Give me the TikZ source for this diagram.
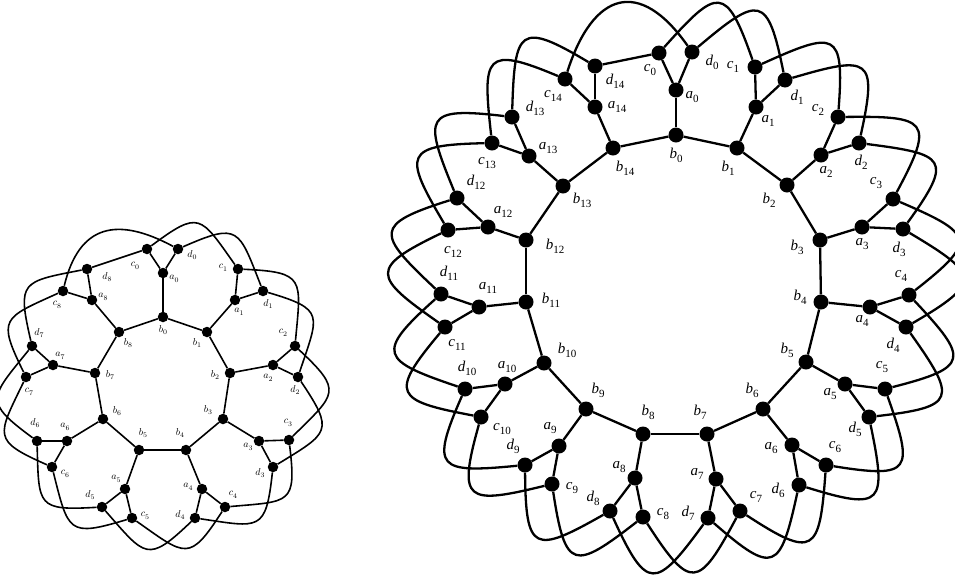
\documentclass[tikz,border=0pt]{standalone}
\usepackage{fontspec}
\newfontfamily\rfont{Liberation Serif}
\usetikzlibrary{calc}
\newcommand{\RL}[2]{{\rfont\fontsize{15}{15}\selectfont\itshape #1}\raisebox{-4pt}{\rfont\fontsize{11}{11}\selectfont #2}}
\newcommand{\LL}[2]{{\fontsize{10}{10}\selectfont$#1$}\raisebox{-2.5pt}{\fontsize{7.5}{7.5}\selectfont$#2$}}
\newcommand{\VR}[6]{\node[rv] (R#1#2) at (#3,#4) {}; \node[lab] (R#1#2l) at (#5,#6) {\RL{#1}{#2}};}
\newcommand{\VL}[6]{\node[lv] (L#1#2) at (#3,#4) {}; \node[lab] (L#1#2l) at (#5,#6) {\LL{#1}{#2}};}
\tikzset{
  rv/.style={circle,fill=black,inner sep=0pt,minimum size=15pt},
  lv/.style={circle,fill=black,inner sep=0pt,minimum size=10.5pt},
  lab/.style={inner sep=0pt},
  rline/.style={line width=2.3pt,line join=round},
  lline/.style={line width=1.6pt,line join=round},
}
\begin{document}
\begin{tikzpicture}[x=1pt,y=-1pt]
\useasboundingbox (0,0) rectangle (955,579);
\coordinate (RO) at (672,287);
\coordinate (LO) at (163,386);
% ---------------- right graph (n=15)
\VR{a}{0}{676}{90}{692}{97}
\VR{b}{0}{676}{135}{676}{155}
\VR{c}{0}{659}{53}{650}{70}
\VR{d}{0}{692}{52}{712}{62}
\VR{a}{1}{756}{107}{768}{121}
\VR{b}{1}{737}{148}{728}{168}
\VR{c}{1}{755}{67}{733}{67}
\VR{d}{1}{785}{80}{797}{97}
\VR{a}{2}{821}{155}{826}{172}
\VR{b}{2}{787}{185}{769}{200}
\VR{c}{2}{838}{117}{818}{110}
\VR{d}{2}{859}{143}{861}{162}
\VR{a}{3}{862}{227}{862}{244}
\VR{b}{3}{820}{240}{797}{247}
\VR{c}{3}{893}{199}{876}{183}
\VR{d}{3}{903}{229}{899}{249}
\VR{a}{4}{870}{307}{862}{321}
\VR{b}{4}{821}{302}{800}{297}
\VR{c}{4}{909}{295}{901}{276}
\VR{d}{4}{906}{327}{893}{345}
\VR{a}{5}{845}{384}{830}{394}
\VR{b}{5}{806}{362}{787}{350}
\VR{c}{5}{885}{389}{882}{367}
\VR{d}{5}{869}{417}{855}{429}
\VR{a}{6}{792}{445}{771}{448}
\VR{b}{6}{763}{409}{752}{390}
\VR{c}{6}{826}{465}{835}{447}
\VR{d}{6}{799}{485}{778}{490}
\VR{a}{7}{716}{479}{697}{474}
\VR{b}{7}{707}{434}{700}{412}
\VR{c}{7}{740}{511}{756}{497}
\VR{d}{7}{708}{518}{688}{513}
\VR{a}{8}{635}{478}{619}{467}
\VR{b}{8}{643}{434}{648}{412}
\VR{c}{8}{643}{517}{663}{514}
\VR{d}{8}{610}{511}{593}{498}
\VR{a}{9}{559}{446}{550}{428}
\VR{b}{9}{586}{409}{598}{390}
\VR{c}{9}{552}{484}{572}{488}
\VR{d}{9}{525}{465}{513}{446}
\VR{a}{10}{505}{384}{507}{367}
\VR{b}{10}{544}{363}{567}{350}
\VR{c}{10}{481}{417}{502}{429}
\VR{d}{10}{465}{389}{467}{368}
\VR{a}{11}{479}{307}{488}{288}
\VR{b}{11}{526}{302}{551}{300}
\VR{c}{11}{445}{327}{457}{345}
\VR{d}{11}{441}{294}{449}{273}
\VR{a}{12}{488}{227}{503}{212}
\VR{b}{12}{526}{240}{555}{246}
\VR{c}{12}{448}{230}{453}{252}
\VR{d}{12}{457}{198}{476}{182}
\VR{a}{13}{529}{156}{548}{148}
\VR{b}{13}{563}{186}{582}{200}
\VR{c}{13}{492}{143}{487}{163}
\VR{d}{13}{512}{117}{535}{108}
\VR{a}{14}{595}{107}{617}{107}
\VR{b}{14}{613}{148}{625}{168}
\VR{c}{14}{565}{79}{553}{96}
\VR{d}{14}{595}{66}{615}{81}
\foreach \i [evaluate=\i as \j using {int(mod(\i+1,15))}] in {0,...,14} {
  \draw[rline] (Rb\i) -- (Rb\j);
  \draw[rline] (Ra\i) -- (Rb\i);
  \draw[rline] (Ra\i) -- (Rc\i);
  \draw[rline] (Ra\i) -- (Rd\i);
}
\draw[rline] (Rd14) -- (Rc0);
\foreach \i [evaluate=\i as \j using {int(\i+1)}] in {0,...,13} {
  \foreach \k in {c,d} {
    \draw[rline] let \p1=($(R\k\i)-(RO)$), \p2=($(R\k\j)-(RO)$),
      \n1={atan2(\y1,\x1)-45}, \n2={atan2(\y2,\x2)+40} in
      (R\k\i) to[out=\n1,in=\n2,looseness=2.3] (R\k\j);
  }
}
\draw[rline] let \p1=($(Rc14)-(RO)$), \p2=($(Rd0)-(RO)$),
  \n1={atan2(\y1,\x1)-45}, \n2={atan2(\y2,\x2)+40} in
  (Rc14) to[out=\n1,in=\n2,looseness=1.75] (Rd0);
% ---------------- left graph (n=9)
\VL{a}{0}{163}{273}{174}{279}
\VL{b}{0}{163}{317}{163}{330}
\VL{c}{0}{147}{249}{135}{266}
\VL{d}{0}{178}{249}{192}{255}
\VL{a}{1}{235}{300}{239}{312}
\VL{b}{1}{207}{332}{197}{343}
\VL{c}{1}{238}{269}{223}{268}
\VL{d}{1}{263}{291}{268}{304}
\VL{a}{2}{273}{365}{268}{378}
\VL{b}{2}{230}{373}{215}{375}
\VL{c}{2}{295}{346}{283}{333}
\VL{d}{2}{298}{377}{295}{390}
\VL{a}{3}{259}{441}{248}{447}
\VL{b}{3}{223}{419}{208}{410}
\VL{c}{3}{289}{440}{288}{423}
\VL{d}{3}{273}{467}{260}{473}
\VL{a}{4}{202}{489}{188}{487}
\VL{b}{4}{186}{450}{180}{433}
\VL{c}{4}{225}{507}{233}{495}
\VL{d}{4}{195}{518}{180}{515}
\VL{a}{5}{125}{489}{116}{479}
\VL{b}{5}{139}{450}{143}{433}
\VL{c}{5}{132}{518}{145}{516}
\VL{d}{5}{102}{507}{90}{495}
\VL{a}{6}{67}{441}{65}{427}
\VL{b}{6}{103}{419}{117}{411}
\VL{c}{6}{52}{467}{65}{474}
\VL{d}{6}{37}{441}{35}{423}
\VL{a}{7}{53}{365}{60}{356}
\VL{b}{7}{95}{373}{110}{375}
\VL{c}{7}{26}{377}{29}{392}
\VL{d}{7}{32}{346}{39}{333}
\VL{a}{8}{92}{300}{103}{297}
\VL{b}{8}{119}{332}{128}{343}
\VL{c}{8}{63}{291}{57}{305}
\VL{d}{8}{87}{269}{107}{277}
\foreach \i [evaluate=\i as \j using {int(mod(\i+1,9))}] in {0,...,8} {
  \draw[lline] (Lb\i) -- (Lb\j);
  \draw[lline] (La\i) -- (Lb\i);
  \draw[lline] (La\i) -- (Lc\i);
  \draw[lline] (La\i) -- (Ld\i);
}
\draw[lline] (Ld8) -- (Lc0);
\foreach \i [evaluate=\i as \j using {int(\i+1)}] in {0,...,7} {
  \foreach \k in {c,d} {
    \draw[lline] let \p1=($(L\k\i)-(LO)$), \p2=($(L\k\j)-(LO)$),
      \n1={atan2(\y1,\x1)-60}, \n2={atan2(\y2,\x2)+68} in
      (L\k\i) to[out=\n1,in=\n2,looseness=1.8] (L\k\j);
  }
}
\draw[lline] let \p1=($(Lc8)-(LO)$), \p2=($(Ld0)-(LO)$),
  \n1={atan2(\y1,\x1)-60}, \n2={atan2(\y2,\x2)+68} in
  (Lc8) to[out=\n1,in=\n2,looseness=1.4] (Ld0);
\end{tikzpicture}
\end{document}
